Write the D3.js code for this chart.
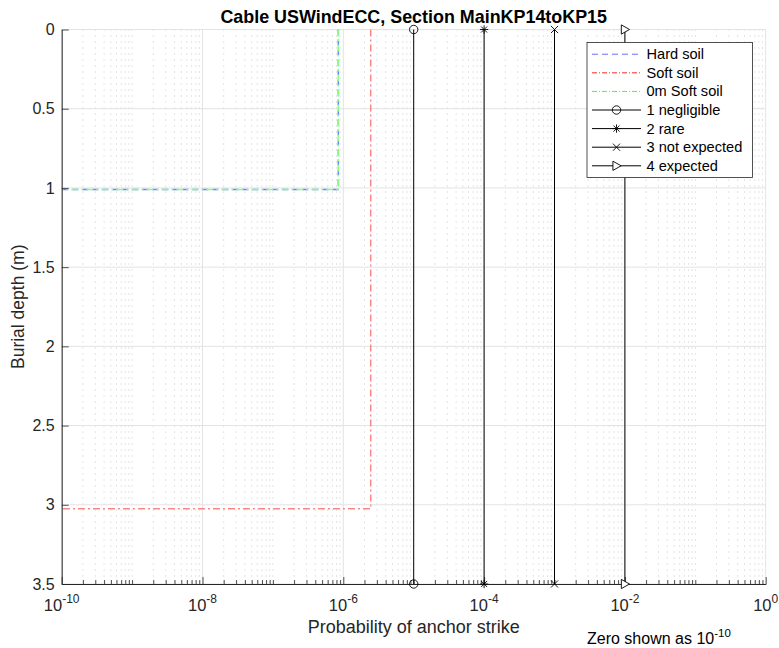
<!DOCTYPE html>
<html>
<head>
<meta charset="utf-8">
<script src="https://cdn.jsdelivr.net/npm/d3@7"></script>
<style>
  html, body { margin: 0; padding: 0; background: #fff; }
  svg { display: block; font-family: "Liberation Sans", Arial, Helvetica, sans-serif; }
</style>
</head>
<body>
<svg id="chart" width="779" height="648"></svg>
<script>
// ---- data -------------------------------------------------------------
const titleText = "Cable USWindECC, Section MainKP14toKP15";
const xLabelText = "Probability of anchor strike";
const yLabelText = "Burial depth (m)";

// Probability vs burial depth for each soil case (zero plotted as 1e-10)
const hardSoilProb  = [8.5e-7, 8.5e-7, 1e-10];
const hardSoilDepth = [0, 1.01, 1.01];
const softSoilProb  = [2.45e-6, 2.45e-6, 1e-10];
const softSoilDepth = [0, 3.025, 3.025];
const zeroSoftProb  = [8.5e-7, 8.5e-7, 1e-10];
const zeroSoftDepth = [0, 1.01, 1.01];

// Risk category thresholds
const riskLabels  = ["1 negligible", "2 rare", "3 not expected", "4 expected"];
const riskProb    = [1e-5, 1e-4, 1e-3, 1e-2];
const riskMarkers = ["circle", "star", "cross", "triangle"];
const riskDepths  = [0, 3.5];

// Axis ticks
const xMajorExp = [-10, -8, -6, -4, -2, 0];
const yTicks = [0, 0.5, 1, 1.5, 2, 2.5, 3, 3.5];

// ---- layout -----------------------------------------------------------
const axisColor = "#262626";
const svg = d3.select("#chart");
const x = d3.scaleLog().domain([1e-10, 1]).range([61.7, 765.7]);
const y = d3.scaleLinear().domain([0, 3.5]).range([29.5, 584]);

// minor tick values: every 1..9 x 10^k that is not a labelled major
const xMajor = xMajorExp.map(e => Math.pow(10, e));
const xMinor = [];
for (let e = -10; e < 0; e++) {
  for (let m = 1; m <= 9; m++) {
    const v = m * Math.pow(10, e);
    if (m === 1 && xMajorExp.includes(e)) continue;
    xMinor.push(v);
  }
}

// ---- grid -------------------------------------------------------------
const grid = svg.append("g");
grid.selectAll(".minor").data(xMinor).join("line")
  .attr("x1", d => x(d)).attr("x2", d => x(d))
  .attr("y1", y(0)).attr("y2", y(3.5))
  .attr("stroke", "#c8c8c8").attr("stroke-width", 1)
  .attr("stroke-dasharray", "1,5");
grid.selectAll(".xmaj").data(xMajor).join("line")
  .attr("x1", d => x(d)).attr("x2", d => x(d))
  .attr("y1", y(0)).attr("y2", y(3.5))
  .attr("stroke", "#e3e3e3").attr("stroke-width", 1);
grid.selectAll(".ymaj").data(yTicks).join("line")
  .attr("x1", x(1e-10)).attr("x2", x(1))
  .attr("y1", d => y(d)).attr("y2", d => y(d))
  .attr("stroke", "#e3e3e3").attr("stroke-width", 1);

// ---- soil curves -------------------------------------------------------
const line = d3.line().x(d => x(d[0])).y(d => y(d[1]));
const zip = (p, dd) => p.map((v, i) => [v, dd[i]]);
const soilSeries = [
  { name: "Hard soil",    pts: zip(hardSoilProb, hardSoilDepth), color: "#7a7aff", legendColor: "#6b6bff", dash: "6,4" },
  { name: "Soft soil",    pts: zip(softSoilProb, softSoilDepth), color: "#ff8484", legendColor: "#ff2a2a", dash: "7,3,2,3" },
  { name: "0m Soft soil", pts: zip(zeroSoftProb, zeroSoftDepth), color: "#84ff84", legendColor: "#3cff3c", dash: "7,3,2,3" }
];
svg.append("g").selectAll("path").data(soilSeries).join("path")
  .attr("d", d => line(d.pts))
  .attr("fill", "none")
  .attr("stroke", d => d.color)
  .attr("stroke-width", 1.5)
  .attr("stroke-dasharray", d => d.dash);

// ---- marker shapes ---------------------------------------------------
function drawMarker(g, type, cx, cy) {
  const s = 4.2;
  if (type === "circle") {
    g.append("circle").attr("cx", cx).attr("cy", cy).attr("r", s)
      .attr("fill", "none").attr("stroke", "#000").attr("stroke-width", 0.9);
  } else if (type === "star") {
    const p = d3.path();
    p.moveTo(cx, cy - s); p.lineTo(cx, cy + s);
    p.moveTo(cx - s, cy); p.lineTo(cx + s, cy);
    const k = s * 0.72;
    p.moveTo(cx - k, cy - k); p.lineTo(cx + k, cy + k);
    p.moveTo(cx - k, cy + k); p.lineTo(cx + k, cy - k);
    g.append("path").attr("d", p.toString()).attr("stroke", "#000").attr("stroke-width", 0.9).attr("fill", "none");
  } else if (type === "cross") {
    const k = s * 0.85;
    const p = d3.path();
    p.moveTo(cx - k, cy - k); p.lineTo(cx + k, cy + k);
    p.moveTo(cx - k, cy + k); p.lineTo(cx + k, cy - k);
    g.append("path").attr("d", p.toString()).attr("stroke", "#000").attr("stroke-width", 0.9).attr("fill", "none");
  } else if (type === "triangle") {
    const pts = [[cx - s * 0.85, cy - s * 1.1], [cx + s * 1.1, cy], [cx - s * 0.85, cy + s * 1.1]];
    g.append("path").attr("d", "M" + pts.map(q => q.join(",")).join("L") + "Z")
      .attr("fill", "#fff").attr("stroke", "#000").attr("stroke-width", 0.9);
  }
}

// ---- risk category lines ---------------------------------------------
const riskG = svg.append("g");
riskProb.forEach((p, i) => {
  riskG.append("line")
    .attr("x1", x(p)).attr("x2", x(p))
    .attr("y1", y(riskDepths[0])).attr("y2", y(riskDepths[1]))
    .attr("stroke", "#000").attr("stroke-width", 1);
});

// ---- axes ------------------------------------------------------------
const xAxisMinor = d3.axisBottom(x).tickValues(xMinor).tickSizeInner(-4).tickSizeOuter(0).tickFormat("");
const xAxisMajor = d3.axisBottom(x).tickValues(xMajor).tickSizeInner(-7).tickSizeOuter(0).tickFormat("");
const xg1 = svg.append("g").attr("transform", `translate(0,${y(3.5)})`).call(xAxisMinor);
const xg2 = svg.append("g").attr("transform", `translate(0,${y(3.5)})`).call(xAxisMajor);
[xg1, xg2].forEach(g => {
  g.select(".domain").attr("stroke", axisColor);
  g.selectAll(".tick line").attr("stroke", axisColor).attr("stroke-width", 0.8);
});

// power-of-ten labels
const xl = svg.append("g").attr("fill", axisColor);
xMajorExp.forEach(e => {
  const t = xl.append("text")
    .attr("x", x(Math.pow(10, e))).attr("y", 610.5)
    .attr("text-anchor", "middle").attr("font-size", 16.5);
  t.append("tspan").text("10");
  t.append("tspan").attr("dy", -8).attr("font-size", 12).text(String(e));
});

const yAxis = d3.axisLeft(y).tickValues(yTicks).tickSizeInner(-7).tickSizeOuter(0)
  .tickPadding(7).tickFormat(d => String(d));
const yg = svg.append("g").attr("transform", `translate(${x(1e-10)},0)`).call(yAxis);
yg.select(".domain").attr("stroke", axisColor);
yg.selectAll(".tick line").attr("stroke", axisColor).attr("stroke-width", 0.8);
yg.selectAll(".tick text").attr("fill", axisColor).attr("font-size", 16)
  .attr("font-family", "'Liberation Sans', Arial, sans-serif");

// markers drawn over the axes
riskProb.forEach((p, i) => {
  riskDepths.forEach(dpt => drawMarker(riskG.raise(), riskMarkers[i], x(p), y(dpt)));
});

// ---- text --------------------------------------------------------------
svg.append("text").attr("x", 413.7).attr("y", 22.5)
  .attr("text-anchor", "middle").attr("font-weight", "bold").attr("font-size", 17.9)
  .attr("fill", "#000").text(titleText);

svg.append("text").attr("x", 413.7).attr("y", 632.5)
  .attr("text-anchor", "middle").attr("font-size", 18)
  .attr("fill", axisColor).text(xLabelText);

svg.append("text").attr("transform", `translate(24,${(y(0) + y(3.5)) / 2}) rotate(-90)`)
  .attr("text-anchor", "middle").attr("font-size", 17.5)
  .attr("fill", axisColor).text(yLabelText);

const note = svg.append("text").attr("x", 587).attr("y", 643.5)
  .attr("font-size", 16).attr("fill", "#000");
note.append("tspan").text("Zero shown as 10");
note.append("tspan").attr("dy", -7).attr("font-size", 11.5).text("-10");

// ---- legend ----------------------------------------------------------
const lg = svg.append("g");
lg.append("rect").attr("x", 587).attr("y", 42.5).attr("width", 165.5).attr("height", 135)
  .attr("fill", "#fff").attr("stroke", axisColor).attr("stroke-width", 0.8);
const rowY = i => 54.2 + i * 18.6;
const legendItems = soilSeries.map(s => ({ label: s.name, color: s.legendColor, dash: s.dash, marker: null }))
  .concat(riskLabels.map((l, i) => ({ label: l, color: "#000", dash: null, marker: riskMarkers[i] })));
legendItems.forEach((it, i) => {
  const yy = rowY(i);
  lg.append("line").attr("x1", 592).attr("x2", 641).attr("y1", yy).attr("y2", yy)
    .attr("stroke", it.color).attr("stroke-width", 1)
    .attr("stroke-dasharray", it.dash ? (it.dash === "6,4" ? "6,4" : "5,2,1,2") : null);
  if (it.marker) drawMarker(lg, it.marker, 616.5, yy);
  lg.append("text").attr("x", 646.5).attr("y", yy + 5)
    .attr("font-size", 14.6).attr("fill", "#000").text(it.label);
});
</script>
</body>
</html>
